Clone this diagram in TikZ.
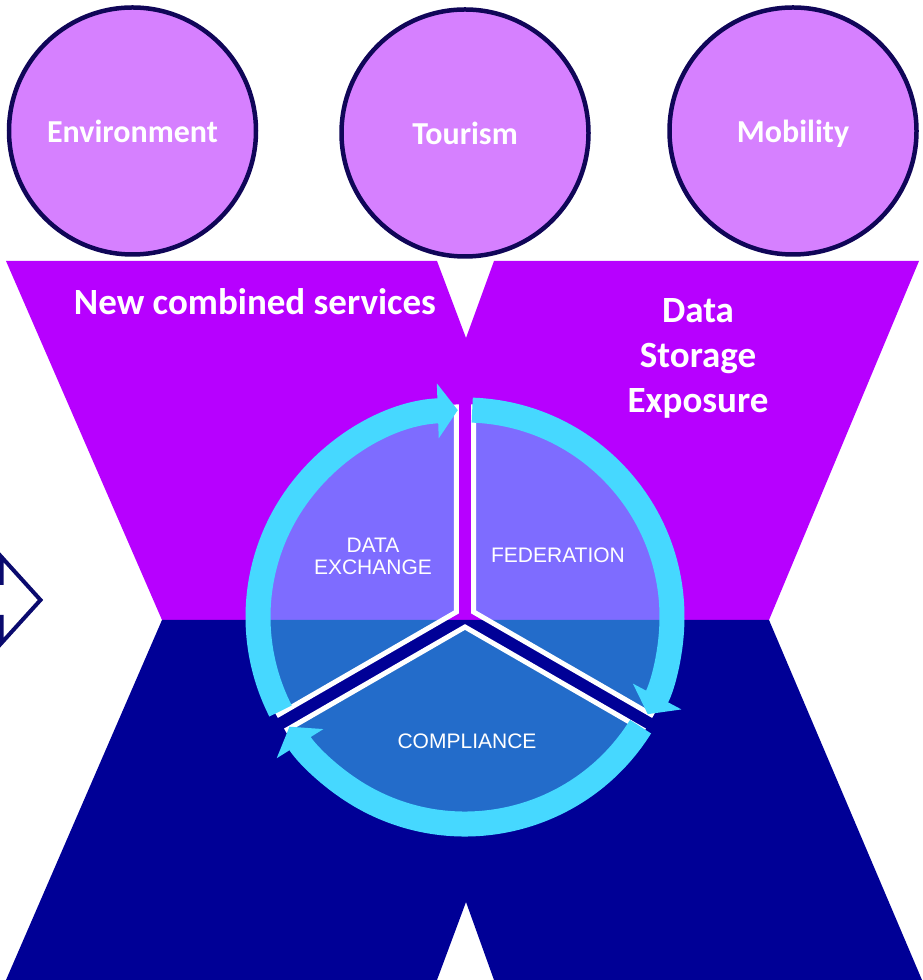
\documentclass[tikz,border=0pt]{standalone}
\usepackage{fontspec}
\setmainfont{Carlito}
\newfontfamily\slicefont{Liberation Sans}
\usetikzlibrary{arrows.meta}
\definecolor{bandpurple}{RGB}{183,0,255}
\definecolor{bandnavy}{RGB}{0,0,150}
\definecolor{topicfill}{RGB}{214,128,255}
\definecolor{topicline}{RGB}{16,6,88}
\definecolor{ringcyan}{RGB}{70,216,255}
\definecolor{arrowline}{RGB}{10,10,110}
\begin{document}
\begin{tikzpicture}[x=1pt,y=1pt,
  topic/.style={circle, draw=topicline, line width=4.5pt, fill=topicfill, minimum size=247pt, inner sep=0pt, text=white, text depth=0pt, font=\fontsize{32}{38}\selectfont\bfseries},
  bandlabel/.style={text=white, inner sep=0pt, align=center, font=\fontsize{37}{45}\selectfont\bfseries},
  slice/.style={fill=ringcyan, fill opacity=0.5, draw=white, line width=5pt},
  slicelabel/.style={text=white, inner sep=0pt, align=center, font=\slicefont\fontsize{21}{22}\selectfont},
  cycarrow/.style={draw=ringcyan, line width=25pt, -{Triangle[length=20pt,width=54pt]}}]
\useasboundingbox (0,0) rectangle (922,980) ;
\clip (0,0) rectangle (922,980) ;
\fill[bandpurple] (6,719) -- (437,719) -- (466,642) -- (494,719) -- (919,719) -- (769,360) -- (162,360) -- cycle ;
\fill[bandnavy] (162,360) -- (769,360) -- (922,0) -- (494,0) -- (466,78) -- (437,0) -- (6,0) -- cycle ;
\draw[line width=4pt, draw=arrowline, fill=white] (-20,397) -- (1.5,397) -- (1.5,423) -- (40.5,380) -- (1.5,337) -- (1.5,363) -- (-20,363) -- cycle ;
\node[topic] (env) at (132.5,849) {Environment} ;
\node[topic] (tour) at (465,847) {Tourism} ;
\node[topic] (mob) at (793,849) {Mobility} ;
\node[bandlabel, anchor=base] (newsvc) at (255,665) {New combined services} ;
\node[bandlabel, anchor=north] (datasto) at (698,682) {Data\\Storage\\Exposure} ;
\coordinate (hub) at (465,363) ;
\filldraw[slice] (hub) ++(150:10) -- ++(90:205) arc[start angle=90, end angle=210, radius=205] -- cycle ;
\filldraw[slice] (hub) ++(30:10) -- ++(-30:205) arc[start angle=-30, end angle=90, radius=205] -- cycle ;
\filldraw[slice] (hub) ++(270:10) -- ++(210:205) arc[start angle=210, end angle=330, radius=205] -- cycle ;
\draw[cycarrow] (hub) ++(207:207) arc[start angle=207, end angle=92, radius=207] ;
\draw[cycarrow] (hub) ++(88:207) arc[start angle=88, end angle=-28, radius=207] ;
\draw[cycarrow] (hub) ++(-32:207) arc[start angle=-32, end angle=-148, radius=207] ;
\node[slicelabel, anchor=north] (dex) at (373,442.5) {DATA\\EXCHANGE} ;
\node[slicelabel, anchor=base] (fed) at (558,417.5) {FEDERATION} ;
\node[slicelabel, anchor=base] (comp) at (467,231.5) {COMPLIANCE} ;
\end{tikzpicture}
\end{document}
